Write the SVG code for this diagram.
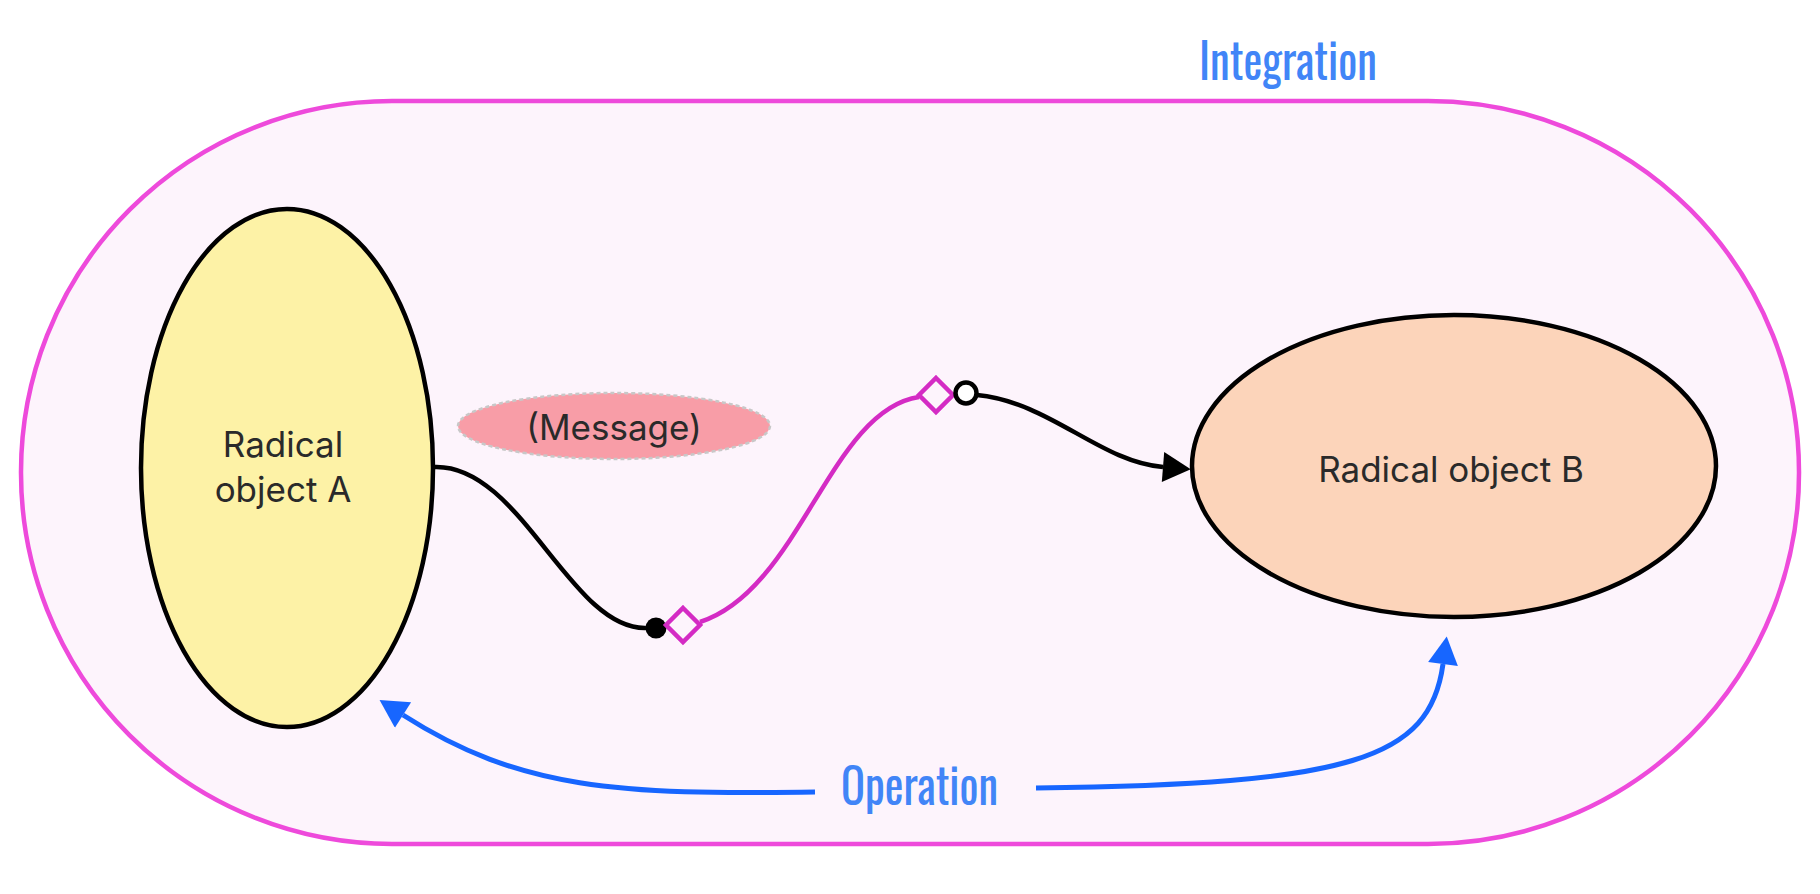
<svg xmlns="http://www.w3.org/2000/svg" width="1820" height="894" viewBox="0 0 1820 894">
<defs>
<style>
.lbl{font-family:Inter,"Noto Sans",sans-serif;font-size:35px;fill:#2a2a2a;text-anchor:middle}
.blue{font-family:Oswald,"Liberation Sans",sans-serif;font-size:50px;fill:#4185F7}
.bk{fill:none;stroke:#000;stroke-width:4.5}
.mg{fill:none;stroke:#D42BC4;stroke-width:4.5}
.bl{fill:none;stroke:#1766FF;stroke-width:5}
</style>
<marker id="ab" markerUnits="userSpaceOnUse" markerWidth="30" markerHeight="30" refX="0" refY="14" orient="auto" viewBox="0 0 26 28"><path d="M0,0 L26,14 L0,28 Z" fill="#000"/></marker>
<marker id="abl" markerUnits="userSpaceOnUse" markerWidth="30" markerHeight="30" refX="0" refY="14" orient="auto" viewBox="0 0 26 28"><path d="M0,0 L26,14 L0,28 Z" fill="#1766FF"/></marker>
</defs>
<rect width="1820" height="894" fill="#fff"/>
<g id="integration">
<rect x="21" y="101" width="1778" height="743" rx="371" ry="371" fill="#FDF4FC" stroke="#EE4ADB" stroke-width="4.5"/>
<text class="blue" x="1199" y="80" textLength="178" lengthAdjust="spacingAndGlyphs">Integration</text>
</g>
<g id="objectA">
<ellipse cx="287" cy="468" rx="146" ry="259" fill="#FDF2A6" stroke="#000" stroke-width="4.5"/>
<text class="lbl" x="283" y="457">Radical</text>
<text class="lbl" x="283" y="502">object A</text>
</g>
<g id="objectB">
<ellipse cx="1454" cy="466" rx="262" ry="151" fill="#FCD4BA" stroke="#000" stroke-width="4.5"/>
<text class="lbl" x="1451" y="482">Radical object B</text>
</g>
<g id="message">
<ellipse cx="614" cy="426" rx="156" ry="33" fill="#F89DA7" stroke="#C8C8C8" stroke-width="2.5" stroke-dasharray="4 3"/>
<text class="lbl" x="614" y="440">(Message)</text>
</g>
<g id="connectors">
<path class="bk" d="M433,467 C520,462 570,630 646,628"/>
<circle cx="656" cy="628" r="10.5" fill="#000"/>
<path class="mg" d="M700,622 C800,590 830,410 919,397"/>
<path class="mg" d="M683,608 L700,625 L683,642 L666,625 Z" fill="#FDF4FC"/>
<path class="mg" d="M936,378 L953,395 L936,412 L919,395 Z" fill="#FDF4FC"/>
<path class="bk" d="M977,395 C1050,402 1100,462 1163,467" marker-end="url(#ab)"/>
<circle cx="966" cy="393" r="10.5" fill="#fff" stroke="#000" stroke-width="4.5"/>
<path class="bl" d="M815,792 C620,795 520,790 403,715" marker-end="url(#abl)"/>
<path class="bl" d="M1036,788 C1350,784 1430,760 1443,664" marker-end="url(#abl)"/>
</g>
<g id="operation">
<text class="blue" x="841" y="805" textLength="157" lengthAdjust="spacingAndGlyphs" font-size="49">Operation</text>
</g>
</svg>
